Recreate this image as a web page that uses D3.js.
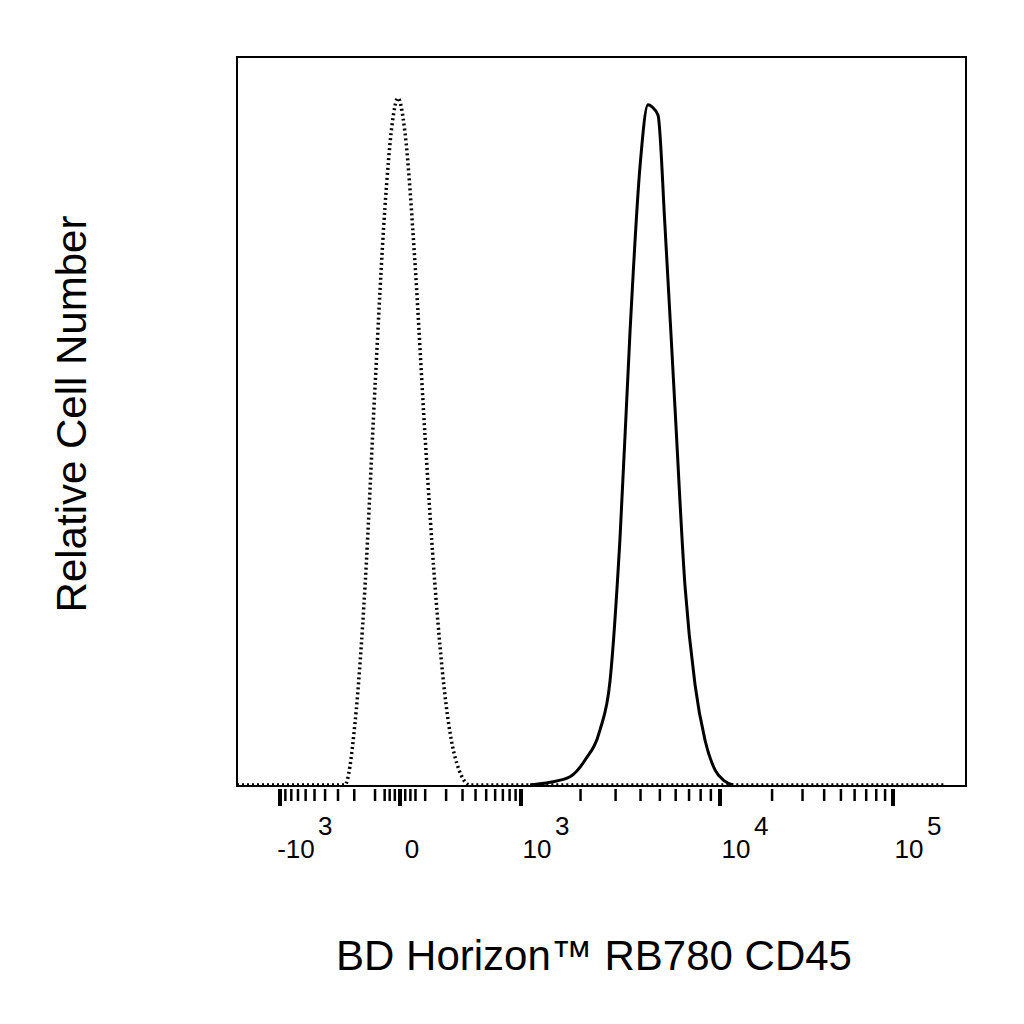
<!DOCTYPE html><html><head><meta charset="utf-8"><script src="https://cdn.jsdelivr.net/npm/d3@7"></script>
<style>body{margin:0;background:#fff}</style></head><body><svg id="c" width="1024" height="1024"></svg>
<script>
const isoX=[-255,-196,-145,-100,-59,-31,-8,19,58,99,144,194,252,356];
const isoY=[0,9,29,58,84,96,100,95,76,51,29,13,4,0];
const cdX=[1112,1404,1770,2104,2504,2810,3158,3544,3976,4360,4570,4896,5300,5950,6680,7500,8420,9440,10590,11880];
const cdY=[0,0.4,1.2,3.6,8,15,36,66,90,99,98.7,97.5,81.5,55,29,14.6,6.5,2.2,0.6,0];
const majorTicks=[-1000,0,1000,10000,100000];
const majorLabels=[["-10","3"],["0",""],["10","3"],["10","4"],["10","5"]];
const W=200, t=v=>Math.asinh(v/W);
const xt=d3.scaleLinear().domain(majorTicks.map(t)).range([280,400,521,720,893]);
const x=v=>xt(t(v));
const y=d3.scaleLinear().domain([0,100]).range([785,98]);
const svg=d3.select("#c");
const F="Liberation Sans, Arial";
const L=237,R=966,T=57,B=786;
svg.append("rect").attr("x",L).attr("y",T).attr("width",R-L).attr("height",B-T).attr("fill","none").attr("stroke","#000").attr("stroke-width",2);
const minor=[];
for(const k of [100,1000,10000]) for(let m=2;m<=9;m++){minor.push(m*k);}
for(let m=2;m<=9;m++){minor.push(-m*100);}
minor.push(100,-100,-20,-40,-60,20,40,60);
const mv=minor.filter(v=>x(v)>L+5&&x(v)<R-5);
svg.selectAll(".mi").data(mv).join("line").attr("x1",x).attr("x2",x).attr("y1",789).attr("y2",801).attr("stroke","#000").attr("stroke-width",2.5);
svg.selectAll(".ma").data(majorTicks).join("line").attr("x1",x).attr("x2",x).attr("y1",789).attr("y2",806).attr("stroke","#000").attr("stroke-width",4);
majorTicks.forEach((d,i)=>{const [b,e]=majorLabels[i];
 const bx=i===1?x(d)+12:x(d)+16;
 svg.append("text").attr("x",bx).attr("y",858).attr("text-anchor","middle").attr("font-family",F).attr("font-size",26).text(b);
 if(e) svg.append("text").attr("x",bx+(i===0?22:18)).attr("y",835).attr("font-family",F).attr("font-size",26).text(e);});
const isoPts=[[-3000,0]].concat(isoX.map((v,i)=>[v,isoY[i]])).concat([[200000,0]]);
svg.append("path").attr("d",d3.line().x(d=>Math.max(L,Math.min(R,x(d[0])))).y(d=>y(d[1])).curve(d3.curveMonotoneX)(isoPts)).attr("fill","none").attr("stroke","#000").attr("stroke-width",3.5).attr("stroke-dasharray","2,3");
const cdPts=cdX.map((v,i)=>[v,cdY[i]]);
svg.append("path").attr("d",d3.line().x(d=>x(d[0])).y(d=>y(d[1])).curve(d3.curveMonotoneX)(cdPts)).attr("fill","none").attr("stroke","#000").attr("stroke-width",3);
svg.append("text").attr("x",594).attr("y",970).attr("text-anchor","middle").attr("font-family",F).attr("font-size",42).text("BD Horizon™ RB780 CD45");
svg.append("text").attr("transform","translate(86,414) rotate(-90)").attr("text-anchor","middle").attr("font-family",F).attr("font-size",42).text("Relative Cell Number");
</script></body></html>
